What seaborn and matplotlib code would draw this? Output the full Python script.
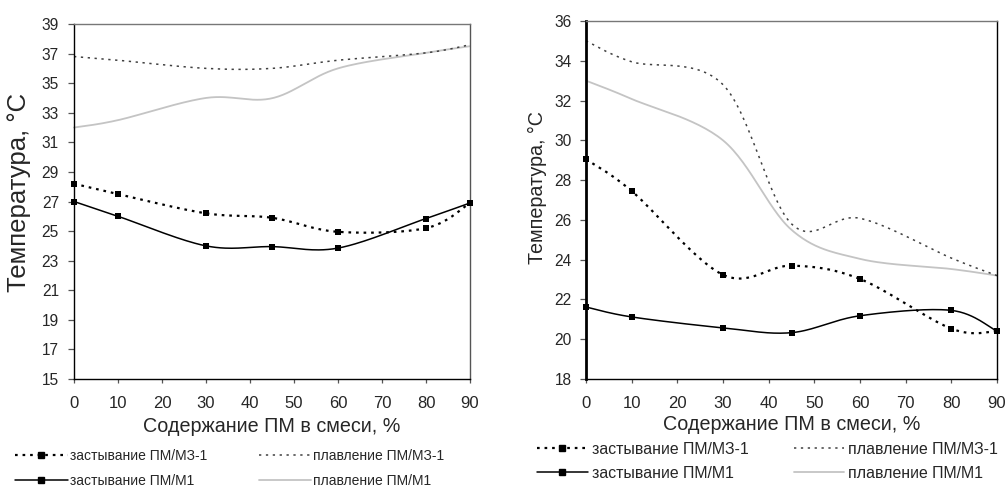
import numpy as np
import pandas as pd
import matplotlib
matplotlib.use("Agg")
import matplotlib.pyplot as plt
from matplotlib.lines import Line2D
import seaborn as sns

sns.set_theme(style="white")
plt.rcParams["font.family"] = ["Liberation Sans", "DejaVu Sans"]

# Содержание ПМ в смеси, %
content = [0, 10, 30, 45, 60, 80, 90]

# Смеси ПМ/МЗ-1 и ПМ/М1 — левый график
left_pour_mz1 = [28.2, 27.5, 26.2, 25.9, 24.95, 25.2, 26.9]
left_melt_mz1 = [36.8, 36.55, 36.0, 36.0, 36.55, 37.05, 37.6]
left_pour_m1 = [27.0, 26.0, 24.0, 23.95, 23.85, 25.85, 26.9]
left_melt_m1 = [32.0, 32.5, 34.0, 33.98, 36.0, 37.05, 37.5]

# Правый график
right_pour_mz1 = [29.05, 27.45, 23.24, 23.7, 23.03, 20.53, 20.4]
right_melt_mz1 = [35.0, 33.95, 32.8, 25.8, 26.08, 24.08, 23.2]
right_pour_m1 = [21.62, 21.12, 20.57, 20.33, 21.18, 21.45, 20.4]
right_melt_m1 = [33.0, 32.08, 30.0, 25.5, 24.04, 23.53, 23.2]

label_pour_mz1 = "застывание ПМ/МЗ-1"
label_melt_mz1 = "плавление ПМ/МЗ-1"
label_pour_m1 = "застывание ПМ/М1"
label_melt_m1 = "плавление ПМ/М1"
x_ticks = list(range(0, 91, 10))
left_y_ticks = list(range(15, 40, 2))
right_y_ticks = list(range(18, 37, 2))


def smooth(xs, ys, n=30):
    """Catmull-Rom curve through the points (spreadsheet-style smoothed line)."""
    p = np.column_stack([xs, ys]).astype(float)
    p_ext = np.vstack([p[0], p, p[-1]])
    out = []
    t = np.linspace(0, 1, n, endpoint=False)
    for i in range(1, len(p_ext) - 2):
        p0, p1, p2, p3 = p_ext[i - 1], p_ext[i], p_ext[i + 1], p_ext[i + 2]
        c1 = p1 + (p2 - p0) / 6.0
        c2 = p2 - (p3 - p1) / 6.0
        tt = t[:, None]
        seg = ((1 - tt) ** 3 * p1 + 3 * (1 - tt) ** 2 * tt * c1
               + 3 * (1 - tt) * tt ** 2 * c2 + tt ** 3 * p2)
        out.append(seg)
    out.append(p[-1][None, :])
    arr = np.vstack(out)
    return arr[:, 0], arr[:, 1]


styles = {
    "pour_mz1": dict(color="black", lw=1.6, ls=(0, (1.2, 2.2))),
    "melt_mz1": dict(color="#404040", lw=1.1, ls=(0, (1.5, 3.0))),
    "pour_m1": dict(color="black", lw=1.1, ls="-"),
    "melt_m1": dict(color="#c4c4c4", lw=1.3, ls="-"),
}


def draw_panel(ax, series, ylim, yticks, ylab_fs, ylab_xy, ytick_pad):
    for key, ys, marker in series:
        sx, sy = smooth(content, ys)
        df = pd.DataFrame({"x": sx, "y": sy})
        st = styles[key]
        sns.lineplot(data=df, x="x", y="y", ax=ax, sort=False, estimator=None,
                     color=st["color"], linewidth=st["lw"], linestyle=st["ls"],
                     clip_on=False)
        if marker:
            pts = pd.DataFrame({"x": content, "y": ys})
            sns.scatterplot(data=pts, x="x", y="y", ax=ax, marker="s", s=22,
                            color="black", edgecolor="black", linewidth=0,
                            clip_on=False, zorder=5)
    ax.set_xlim(0, 90)
    ax.set_ylim(*ylim)
    ax.set_xticks(x_ticks)
    ax.set_yticks(yticks)
    ax.tick_params(axis="x", direction="out", length=3, width=0.9,
                   color="#555555", labelsize=12, pad=9, bottom=True)
    ax.tick_params(axis="y", direction="out", length=4.3, width=0.9,
                   color="#555555", labelsize=11.2, pad=ytick_pad, left=True)
    ax.set_xlabel("Содержание ПМ в смеси, %", fontsize=14.2, va="center")
    ax.set_ylabel("Температура, °С", fontsize=ylab_fs, va="center")
    ax.yaxis.set_label_coords(*ylab_xy)
    for side in ["top", "bottom", "left", "right"]:
        ax.spines[side].set_visible(True)


fig = plt.figure(figsize=(10.07, 4.88), dpi=100)
W, H = 1007, 488
ax1 = fig.add_axes([74 / W, 1 - 379 / H, (470 - 74) / W, (379 - 24) / H])
ax2 = fig.add_axes([586 / W, 1 - 379 / H, (997 - 586) / W, (379 - 21) / H])

draw_panel(ax1, [("melt_m1", left_melt_m1, False),
                 ("melt_mz1", left_melt_mz1, False),
                 ("pour_m1", left_pour_m1, True),
                 ("pour_mz1", left_pour_mz1, True)], (15, 39), left_y_ticks,
           18.5, ((19 - 74) / 396, (379 - 192) / 355), 6.5)
draw_panel(ax2, [("melt_m1", right_melt_m1, False),
                 ("melt_mz1", right_melt_mz1, False),
                 ("pour_m1", right_pour_m1, True),
                 ("pour_mz1", right_pour_mz1, True)], (18, 36), right_y_ticks,
           14.2, ((537 - 586) / 411, (379 - 187.5) / 358), 5.8)
ax1.xaxis.set_label_coords(0.5, (379 - 427) / 355)
ax2.xaxis.set_label_coords(0.5, (379 - 424) / 358)

# рамки
ax1.spines["left"].set(color="black", linewidth=1.0)
ax1.spines["bottom"].set(color="black", linewidth=1.0)
ax1.spines["top"].set(color="#777777", linewidth=1.0)
ax1.spines["right"].set(color="#555555", linewidth=1.0)
ax2.spines["left"].set(color="black", linewidth=2.0)
ax2.spines["bottom"].set(color="black", linewidth=1.0)
ax2.spines["top"].set(color="#777777", linewidth=1.0)
ax2.spines["right"].set(color="black", linewidth=1.0)


def legend_entries():
    h_pour_mz1 = Line2D([0, 0.5, 1], [0, 0, 0], color="black", lw=1.6,
                        ls=(0, (1.2, 2.2)), marker="s", markersize=4.5,
                        markevery=[1])
    h_melt_mz1 = Line2D([0, 1], [0, 0], color="#404040", lw=1.1,
                        ls=(0, (1.5, 3.0)))
    h_pour_m1 = Line2D([0, 0.5, 1], [0, 0, 0], color="black", lw=1.1, ls="-",
                       marker="s", markersize=4.5, markevery=[1])
    h_melt_m1 = Line2D([0, 1], [0, 0], color="#c4c4c4", lw=1.3, ls="-")
    # two columns, filled column by column
    hs = [h_pour_mz1, h_pour_m1, h_melt_mz1, h_melt_m1]
    ls = [label_pour_mz1, label_pour_m1, label_melt_mz1, label_melt_m1]
    return hs, ls


# левая легенда
hs, ls = legend_entries()
fig.legend(hs, ls, ncol=2, loc="upper left",
           bbox_to_anchor=(15 / W, 1 - 449 / H), bbox_transform=fig.transFigure,
           frameon=False, fontsize=10, handlelength=3.8, handletextpad=0.15,
           columnspacing=3.7, labelspacing=0.78, borderpad=0, borderaxespad=0)
# правая легенда
hs, ls = legend_entries()
fig.legend(hs, ls, ncol=2, loc="upper left",
           bbox_to_anchor=(537 / W, 1 - 442 / H), bbox_transform=fig.transFigure,
           frameon=False, fontsize=11.4, handlelength=3.2, handletextpad=0.25,
           columnspacing=2.85, labelspacing=0.54, borderpad=0, borderaxespad=0)

fig.savefig("out.png", dpi=100)
